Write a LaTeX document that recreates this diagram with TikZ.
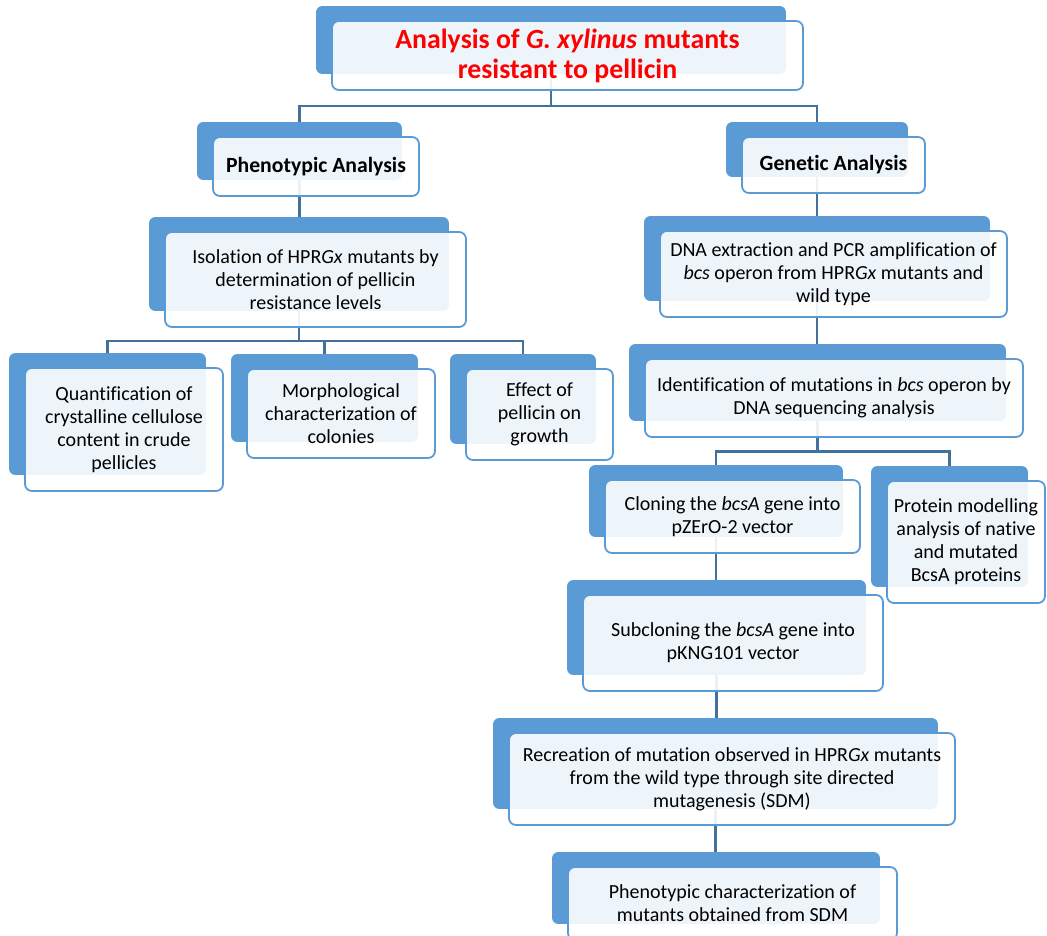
\documentclass[tikz,border=0pt]{standalone}
\usepackage{fontspec}
\setmainfont{Carlito}[Ligatures=NoCommon]
\usepackage{tikz}
\usetikzlibrary{calc,fit,positioning}
\definecolor{boxblue}{HTML}{5B9BD5}
\definecolor{linkblue}{HTML}{41719C}
\pgfdeclarelayer{bg}
\pgfsetlayers{bg,main}
\newcommand{\backbox}[1]{\node[fit={($(#1.south west)+(-15,-17)$) ($(#1.north east)+(-18,-14)$)},
  inner sep=0pt,fill=boxblue,rounded corners=6pt] (#1-b) {};}

\begin{document}
\begin{tikzpicture}[x=1pt,y=-1pt,
  box/.style={draw=boxblue,line width=1.8pt,rounded corners=7pt,fill=white,fill opacity=0.9,
    text opacity=1,align=center,inner sep=0pt,font=\fontsize{20}{23}\selectfont},
  head/.style={box,font=\fontsize{21.7}{25}\selectfont\bfseries},
  link/.style={draw=linkblue,line width=2.2pt}]
\useasboundingbox (0,0) rectangle (1047,936);
\node[box,minimum width=471pt,minimum height=69pt,text=red,
  font=\fontsize{27.8}{30}\selectfont\bfseries] (title) at (567.5,55.5)
  {Analysis of \textit{G. xylinus} mutants\\resistant to pellicin};
\node[head,minimum width=206pt,minimum height=59pt] (phen) at (316,166.5) {Phenotypic Analysis};
\node[head,minimum width=183pt,minimum height=56pt] (gen) at (833.5,165) {Genetic Analysis};
\node[box,minimum width=301pt,minimum height=95pt] (iso) at (315.5,279.5)
  {Isolation of HPR\textit{Gx} mutants by\\determination of pellicin\\resistance levels};
\node[box,minimum width=198pt,minimum height=123pt] (quant) at (124,429.5)
  {Quantification of\\crystalline cellulose\\content in crude\\pellicles};
\node[box,minimum width=188pt,minimum height=89pt] (morph) at (341,413.5)
  {Morphological\\characterization of\\colonies};
\node[box,minimum width=147pt,minimum height=91pt] (effect) at (539.5,414.5)
  {Effect of\\pellicin on\\growth};
\node[box,minimum width=347pt,minimum height=86pt] (dna) at (833.5,274)
  {DNA extraction and PCR amplification of\\\textit{bcs} operon from HPR\textit{Gx} mutants and\\wild type};
\node[box,minimum width=378pt,minimum height=78pt] (ident) at (834,398)
  {Identification of mutations in \textit{bcs} operon by\\DNA sequencing analysis};
\node[box,minimum width=255pt,minimum height=73pt] (clon) at (732.5,516.5)
  {Cloning the \textit{bcsA} gene into\\pZErO-2 vector};
\node[box,minimum width=158pt,minimum height=122pt] (prot) at (966,542)
  {Protein modelling\\analysis of native\\and mutated\\BcsA proteins};
\node[box,minimum width=300pt,minimum height=96pt] (sub) at (733,643)
  {Subcloning the \textit{bcsA} gene into\\pKNG101 vector};
\node[box,minimum width=446pt,minimum height=92pt] (rec) at (732,779)
  {Recreation of mutation observed in HPR\textit{Gx} mutants\\from the wild type through site directed\\mutagenesis (SDM)};
\node[box,minimum width=329pt,minimum height=73pt] (pchar) at (732.5,903.5)
  {Phenotypic characterization of\\mutants obtained from SDM};
\begin{pgfonlayer}{bg}
\foreach \n in {title,phen,gen,iso,quant,morph,effect,dna,ident,clon,prot,sub,rec,pchar}
  {\backbox{\n}}
\coordinate (bar1) at ($(title.south)!0.5!(phen-b.north)$);
\coordinate (bar2) at ($(iso.south)!0.5!(morph-b.north)$);
\coordinate (bar3) at ($(ident.south)!0.5!(clon-b.north)$);
\draw[link] (title-b.south) -- (title-b.south |- bar1);
\draw[link] (phen-b.north) -- (phen-b.north |- bar1) -- (gen-b.north |- bar1) -- (gen-b.north);
\draw[link] (phen-b.south) -- (phen-b.south |- iso-b.north);
\draw[link] (iso-b.south) -- (iso-b.south |- bar2);
\draw[link] (quant-b.north) -- (quant-b.north |- bar2) -- (effect-b.north |- bar2) -- (effect-b.north);
\draw[link] (morph-b.north) -- (morph-b.north |- bar2);
\draw[link] (gen-b.south) -- (gen-b.south |- dna-b.north);
\draw[link] (dna-b.south) -- (dna-b.south |- ident-b.north);
\draw[link] (ident-b.south) -- (ident-b.south |- bar3);
\draw[link] (clon-b.north) -- (clon-b.north |- bar3) -- (prot-b.north |- bar3) -- (prot-b.north);
\draw[link] (clon-b.south) -- (clon-b.south |- sub-b.north);
\draw[link] (sub-b.south) -- (sub-b.south |- rec-b.north);
\draw[link] (rec-b.south) -- (rec-b.south |- pchar-b.north);
\end{pgfonlayer}
\end{tikzpicture}
\end{document}
